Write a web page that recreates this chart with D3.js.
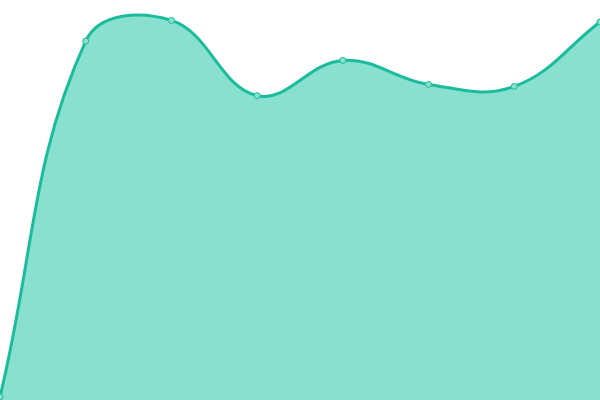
<!DOCTYPE html>
<html lang="en">
<head>
    <meta charset="UTF-8">
    <title>Area chart</title>
    <script src="https://d3js.org/d3.v7.min.js"></script>
    <style>
        body { margin: 0; background: #fff; }
        svg { display: block; }
    </style>
</head>
<body>
    <svg width="600" height="400"></svg>
    <script>
        const categories = ["p1", "p2", "p3", "p4", "p5", "p6", "p7", "p8"];
        const values = [0.8, 89.7, 94.9, 76.1, 84.9, 78.9, 78.4, 94.5];

        const svg = d3.select("svg");
        const width = 600;
        const height = 400;

        const x = d3.scalePoint().domain(categories).range([0, width]);
        const y = d3.scaleLinear().domain([0, 100]).range([height, 0]);

        const data = categories.map((c, i) => ({ c, v: values[i] }));

        // spline with distance-weighted control points (tension 0.4)
        function SplineCurve(context) { this._context = context; }
        SplineCurve.prototype = {
            areaStart() { this._line = 0; },
            areaEnd() { this._line = NaN; },
            lineStart() { this._pts = []; },
            point(px, py) { this._pts.push([+px, +py]); },
            lineEnd() {
                const p = this._pts, n = p.length, ctx = this._context, t = 0.4;
                if (n) {
                    if (this._line) ctx.lineTo(p[0][0], p[0][1]);
                    else ctx.moveTo(p[0][0], p[0][1]);
                    const cps = p.map((cur, i) => {
                        const prev = p[i - 1] || cur, next = p[i + 1] || cur;
                        const d01 = Math.hypot(cur[0] - prev[0], cur[1] - prev[1]);
                        const d12 = Math.hypot(next[0] - cur[0], next[1] - cur[1]);
                        let s01 = d01 / (d01 + d12), s12 = d12 / (d01 + d12);
                        if (isNaN(s01)) s01 = 0;
                        if (isNaN(s12)) s12 = 0;
                        const fa = t * s01, fb = t * s12;
                        return {
                            prev: [cur[0] - fa * (next[0] - prev[0]), cur[1] - fa * (next[1] - prev[1])],
                            next: [cur[0] + fb * (next[0] - prev[0]), cur[1] + fb * (next[1] - prev[1])]
                        };
                    });
                    for (let i = 0; i < n - 1; i++) {
                        ctx.bezierCurveTo(cps[i].next[0], cps[i].next[1],
                            cps[i + 1].prev[0], cps[i + 1].prev[1], p[i + 1][0], p[i + 1][1]);
                    }
                }
                if (this._line || (this._line !== 0 && n === 1)) ctx.closePath();
                this._line = 1 - this._line;
            }
        };
        const curveSpline = context => new SplineCurve(context);

        const area = d3.area()
            .x(d => x(d.c))
            .y0(height)
            .y1(d => y(d.v))
            .curve(curveSpline);

        const line = d3.line()
            .x(d => x(d.c))
            .y(d => y(d.v))
            .curve(curveSpline);

        svg.append("path")
            .datum(data)
            .attr("d", area)
            .attr("fill", "#89e0ce");

        svg.append("path")
            .datum(data)
            .attr("d", line)
            .attr("fill", "none")
            .attr("stroke", "#1abc9c")
            .attr("stroke-width", 3);

        svg.selectAll("circle")
            .data(data)
            .enter().append("circle")
            .attr("cx", d => x(d.c))
            .attr("cy", d => y(d.v))
            .attr("r", 3)
            .attr("fill", "#89e0ce")
            .attr("stroke", "#1abc9c")
            .attr("stroke-width", 1);
    </script>
</body>
</html>
